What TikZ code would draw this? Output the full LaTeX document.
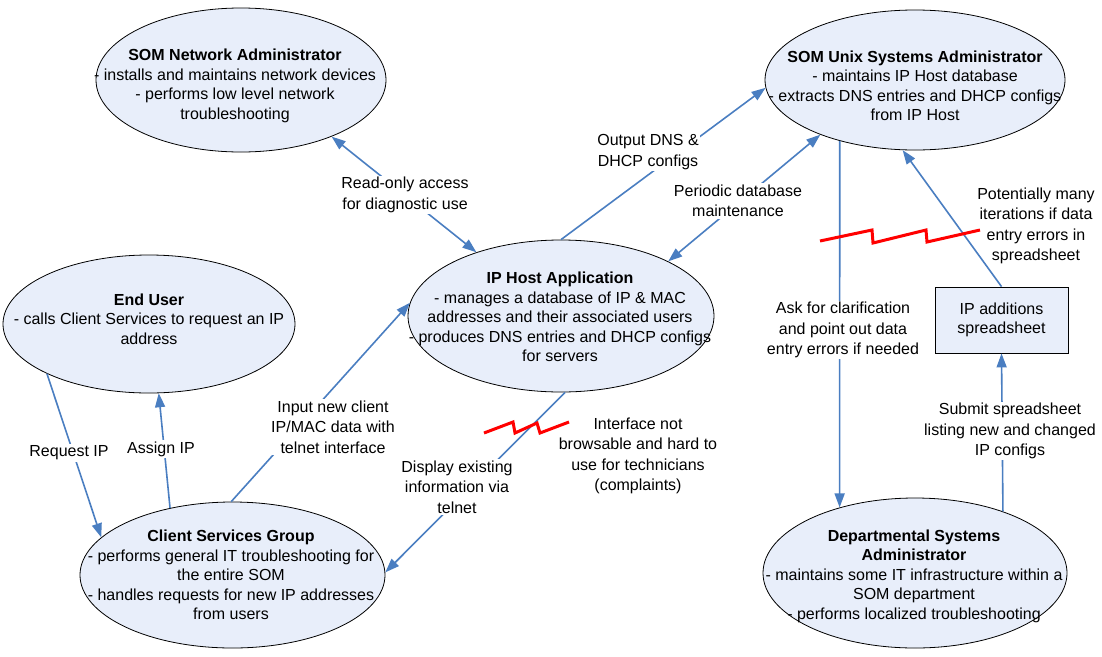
\documentclass[tikz,border=0pt]{standalone}
\usepackage{fontspec}
\setmainfont{Liberation Sans}
\usetikzlibrary{shapes.geometric,arrows.meta}
\definecolor{ellfill}{RGB}{232,238,250}
\definecolor{arrowblue}{RGB}{74,126,193}
\begin{document}
\begin{tikzpicture}[x=1pt,y=-1pt,
  ell/.style={ellipse, draw=black, line width=0.8pt, fill=ellfill, inner sep=0pt},
  txt/.style={align=center, font=\fontsize{16}{19.5}\selectfont, inner sep=0pt},
  lbl/.style={align=center, font=\fontsize{16}{20.5}\selectfont, inner sep=1.5pt, fill=white},
  plainlbl/.style={align=center, font=\fontsize{16}{20.5}\selectfont, inner sep=1.5pt},
  conn/.style={draw=arrowblue, line width=1.6pt},
  tip/.style={-{Triangle[length=14pt,width=10pt]}},
  tips/.style={{Triangle[length=14pt,width=10pt]}-{Triangle[length=14pt,width=10pt]}},
  zig/.style={draw=red, line width=3pt}
]
\useasboundingbox[fill=white] (0,0) rectangle (1102,656);

% ellipses
\node[ell, minimum width=290pt, minimum height=144pt] (net) at (241,80) {};
\node[ell, minimum width=300pt, minimum height=140pt] (unix) at (915,80) {};
\node[ell, minimum width=306pt, minimum height=152pt] (iph) at (561,316) {};
\node[ell, minimum width=292pt, minimum height=138pt] (eu) at (149,324) {};
\node[ell, minimum width=305pt, minimum height=146pt] (csg) at (232.5,575) {};
\node[ell, minimum width=304pt, minimum height=150pt] (dsa) at (915,573) {};
\node[draw=black, line width=0.8pt, fill=ellfill, minimum width=133pt, minimum height=66pt, inner sep=0pt, align=center, font=\fontsize{16}{19.5}\selectfont] (box) at (1001.5,320) {IP additions\\spreadsheet};

% ellipse texts
\node[txt] (netT) at (235,86) {\textbf{SOM Network Administrator}\\- installs and maintains network devices\\- performs low level network\\troubleshooting};
\node[txt] (unixT) at (915,86) {\textbf{SOM Unix Systems Administrator}\\- maintains IP Host database\\- extracts DNS entries and DHCP configs\\from IP Host};
\node[txt] (iphT) at (560,317) {\textbf{IP Host Application}\\- manages a database of IP \& MAC\\addresses and their associated users\\- produces DNS entries and DHCP configs\\for servers};
\node[txt] (euT) at (149,319) {\textbf{End User}\\- calls Client Services to request an IP\\address};
\node[txt] (csgT) at (231,575) {\textbf{Client Services Group}\\- performs general IT troubleshooting for\\the entire SOM\\- handles requests for new IP addresses\\from users};
\node[txt] (dsaT) at (914,576) {\textbf{Departmental Systems}\\\textbf{Administrator}\\- maintains some IT infrastructure within a\\SOM department\\- performs localized troubleshooting};

% connectors
\draw[conn, tips] (net.-32) -- (iph.143);
\draw[conn, tip] (iph.90) -- (unix.183);
\draw[conn, tips] (unix.210.5) -- (iph.27);
\draw[conn, tip] (unix.219) -- (dsa.139);
\draw[conn, tip] (box.north) -- (unix.260);
\draw[conn, tip] (dsa.35) -- (box.south);
\draw[conn, tip] (iph.-87) -- (csg.1.5);
\draw[conn, tip] (csg.91) -- (iph.175.5);
\draw[conn, tip] (eu.206) -- (csg.164.5);
\draw[conn, tip] (csg.133) -- (eu.-82);

% red zigzags
\draw[zig] (820,241) -- (872,230) -- (873,243) -- (926,230) -- (927,242) -- (980,230);
\draw[zig] (484,433) -- (513,422) -- (515,433) -- (537,423) -- (540,433) -- (569,422);

% labels
\node[lbl] (rl) at (405,195) {Read-only access\\for diagnostic use};
\node[lbl] (od) at (648,152) {Output DNS \&\\DHCP configs};
\node[lbl] (pd) at (738,201) {Periodic database\\maintenance};
\node[lbl] (ask) at (843,330) {Ask for clarification\\and point out data\\entry errors if needed};
\node[plainlbl] (pot) at (1036,226) {Potentially many\\iterations if data\\entry errors in\\spreadsheet};
\node[lbl] (sub) at (1010,431) {Submit spreadsheet\\listing new and changed\\IP configs};
\node[plainlbl] (itf) at (638,456) {Interface not\\browsable and hard to\\use for technicians\\(complaints)};
\node[lbl] (disp) at (457,487) {Display existing\\information via\\telnet};
\node[lbl] (inp) at (333,427) {Input new client\\IP/MAC data with\\telnet interface};
\node[lbl] (req) at (69,453) {Request IP};
\node[lbl] (asg) at (161,449) {Assign IP};
\end{tikzpicture}
\end{document}
